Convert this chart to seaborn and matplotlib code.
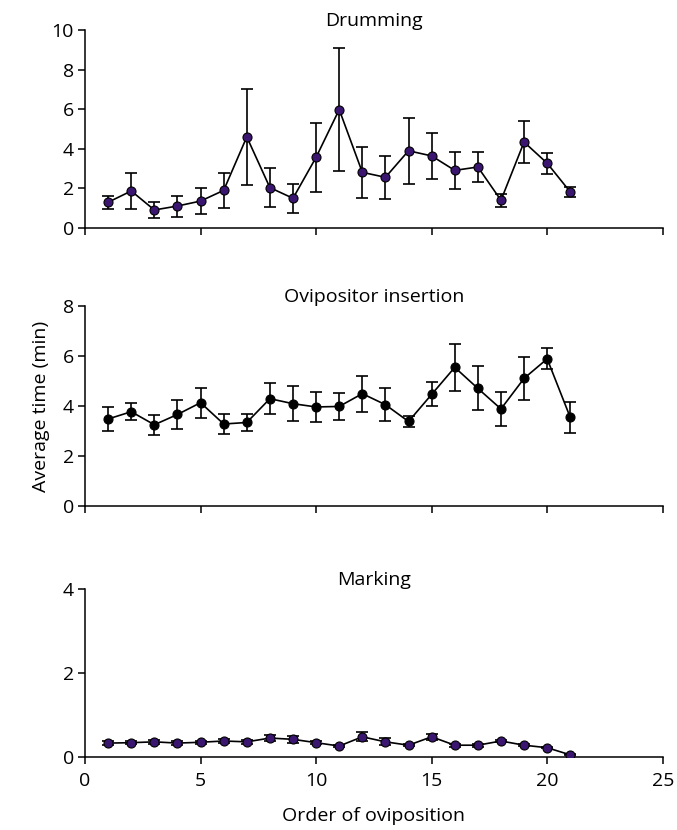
import numpy as np
import pandas as pd
import matplotlib
matplotlib.use("Agg")
import matplotlib.pyplot as plt
import seaborn as sns

order = list(range(1, 22))

drum_mean = [1.30, 1.87, 0.91, 1.11, 1.36, 1.90, 4.60, 2.04, 1.50, 3.57, 5.98,
             2.81, 2.56, 3.90, 3.64, 2.91, 3.08, 1.40, 4.34, 3.27, 1.82]
drum_err = [0.32, 0.92, 0.42, 0.53, 0.64, 0.90, 2.43, 1.00, 0.72, 1.74, 3.10,
            1.27, 1.10, 1.66, 1.17, 0.92, 0.74, 0.32, 1.05, 0.54, 0.26]

ovi_mean = [3.49, 3.78, 3.26, 3.67, 4.14, 3.29, 3.35, 4.30, 4.10, 3.97, 3.99,
            4.50, 4.06, 3.39, 4.47, 5.55, 4.71, 3.89, 5.11, 5.89, 3.55]
ovi_err = [0.47, 0.34, 0.39, 0.58, 0.60, 0.39, 0.33, 0.62, 0.70, 0.61, 0.53,
           0.72, 0.66, 0.21, 0.48, 0.94, 0.88, 0.67, 0.87, 0.42, 0.61]

mark_mean = [0.33, 0.34, 0.36, 0.33, 0.35, 0.38, 0.36, 0.45, 0.42, 0.34, 0.26,
             0.48, 0.36, 0.28, 0.48, 0.28, 0.28, 0.38, 0.28, 0.22, 0.05]
mark_err = [0.04, 0.04, 0.04, 0.05, 0.04, 0.04, 0.05, 0.08, 0.08, 0.04, 0.03,
            0.11, 0.08, 0.03, 0.07, 0.04, 0.04, 0.03, 0.02, 0.01, 0.01]

titles = ["Drumming", "Ovipositor insertion", "Marking"]
ymax = [10, 8, 4]
face = ["#3a1670", "black", "#3a1670"]

sns.set_style("ticks")
plt.rcParams["font.family"] = ["Open Sans", "DejaVu Sans"]
plt.rcParams["font.size"] = 14
plt.rcParams["text.color"] = "black"
plt.rcParams["axes.labelcolor"] = "black"
plt.rcParams["xtick.color"] = "black"
plt.rcParams["ytick.color"] = "black"

fig = plt.figure(figsize=(6.77, 8.30), dpi=100)
# panel boxes in figure fractions
boxes = [[0.1256, 0.7253, 0.8533, 0.2386],
         [0.1256, 0.3898, 0.8533, 0.2416],
         [0.1256, 0.0880, 0.8533, 0.2024]]

series = [(drum_mean, drum_err), (ovi_mean, ovi_err), (mark_mean, mark_err)]

for i in range(3):
    ax = fig.add_axes(boxes[i])
    m, e = series[i]
    df = pd.DataFrame({"order": order, "mean": m, "err": e})
    ax.errorbar(df["order"], df["mean"], yerr=df["err"], fmt="none",
                ecolor="black", elinewidth=1.2, capsize=4.5, capthick=1.2, zorder=2)
    sns.lineplot(data=df, x="order", y="mean", ax=ax, color="black", lw=1.2,
                 marker="o", markersize=6.5, markerfacecolor=face[i],
                 markeredgecolor="black", markeredgewidth=0.8, zorder=3)
    ax.set_xlim(0, 25)
    ax.set_ylim(0, ymax[i])
    ax.set_xticks([0, 5, 10, 15, 20, 25])
    ax.set_yticks(np.arange(0, ymax[i] + 1, 2))
    ax.tick_params(direction="out", length=5, width=1.1, color="black",
                   labelsize=14, pad=3)
    ax.tick_params(axis="x", pad=6)
    for s in ["left", "bottom"]:
        ax.spines[s].set_linewidth(1.1)
        ax.spines[s].set_color("black")
    sns.despine(ax=ax)
    ax.set_title(titles[i], fontsize=14, pad=0, color="black")
    ax.set_xlabel("")
    ax.set_ylabel("")
    if i < 2:
        ax.set_xticklabels([])
    else:
        ax.set_xlabel("Order of oviposition", fontsize=14, labelpad=12)
    if i == 1:
        ax.set_ylabel("Average time (min)", fontsize=14, labelpad=9)

fig.savefig("out.png", dpi=100)
